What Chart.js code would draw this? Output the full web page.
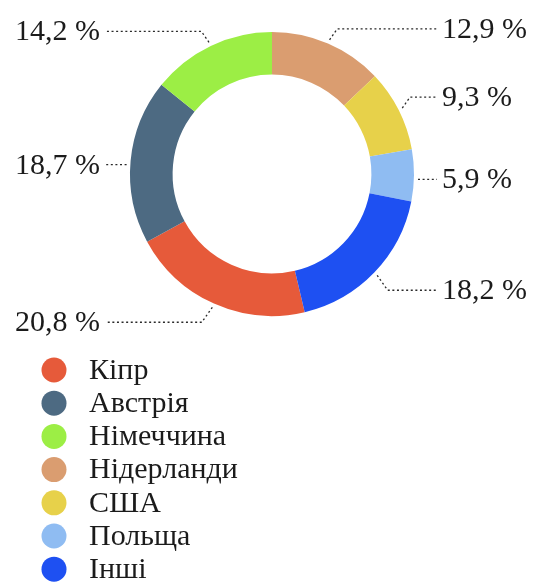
<!DOCTYPE html>
<html>
<head>
<meta charset="utf-8">
<script src="https://cdn.jsdelivr.net/npm/chart.js@4.4.0/dist/chart.umd.min.js"></script>
<style>
  html, body { margin: 0; padding: 0; background: #fff; }
</style>
</head>
<body>
<canvas id="donutChart" width="536" height="583"></canvas>
<script>
// data
var countries = ["Кіпр", "Австрія", "Німеччина", "Нідерланди", "США", "Польща", "Інші"];
var shares = [20.8, 18.7, 14.2, 12.9, 9.3, 5.9, 18.2];
var colors = ["#e65a3a", "#4d6a82", "#9cee45", "#da9d70", "#e7d14a", "#8fbcf2", "#1e50f2"];

// Нідерланди starts at 12 o'clock, so rotate back by the first three slices
var total = shares.reduce(function (a, b) { return a + b; }, 0);
var rotation = -(shares[0] + shares[1] + shares[2]) / total * 360;

var serif = '"Liberation Serif", "Times New Roman", serif';

var callouts = {
  id: 'callouts',
  afterDatasetsDraw: function (chart) {
    var ctx = chart.ctx;
    var meta = chart.getDatasetMeta(0);
    ctx.save();
    ctx.font = '30px ' + serif;
    ctx.fillStyle = '#1b1b1b';
    ctx.strokeStyle = '#2a2a2a';
    ctx.lineWidth = 1.3;
    ctx.textBaseline = 'middle';
    meta.data.forEach(function (arc, i) {
      var p = arc.getProps(['x', 'y', 'startAngle', 'endAngle', 'outerRadius'], true);
      var mid = (p.startAngle + p.endAngle) / 2;
      var r = p.outerRadius + 4;
      var s = Math.sin(mid);
      var ax = p.x + Math.cos(mid) * r;
      var ay = p.y + s * r;
      var sideways = Math.abs(s) <= 0.3;
      // push labels away vertically from the ring, a bit more at the bottom
      var dy = sideways ? 4 : (s > 0 ? 15 : -11);
      var ly = ay + dy;
      var right = Math.cos(mid) > 0;
      var ex = sideways ? ax : (right ? ax + Math.abs(dy) * 0.7 : ax - Math.abs(dy) * 0.7);
      var tx = right ? p.x + p.outerRadius + 28 : p.x - p.outerRadius - 30;
      var lx = right ? tx - 5 : tx + 6;

      ctx.setLineDash([2, 2.6]);
      ctx.beginPath();
      ctx.moveTo(ax, sideways ? ly : ay);
      ctx.lineTo(ex, ly);
      ctx.lineTo(lx, ly);
      ctx.stroke();

      ctx.setLineDash([]);
      ctx.textAlign = right ? 'left' : 'right';
      ctx.fillText(shares[i].toFixed(1).replace('.', ',') + ' %', tx, ly + 1);
    });
    ctx.restore();
  }
};

var listLegend = {
  id: 'listLegend',
  afterDraw: function (chart) {
    var ctx = chart.ctx;
    ctx.save();
    ctx.font = '30px ' + serif;
    ctx.textBaseline = 'middle';
    ctx.textAlign = 'left';
    chart.data.labels.forEach(function (name, i) {
      var y = 370 + i * 33.2;
      ctx.fillStyle = colors[i];
      ctx.beginPath();
      ctx.arc(54, y, 12.5, 0, Math.PI * 2);
      ctx.fill();
      ctx.fillStyle = '#1b1b1b';
      ctx.fillText(name, 89, y + 1);
    });
    ctx.restore();
  }
};

var donutChart = new Chart(document.getElementById('donutChart'), {
  type: 'doughnut',
  data: {
    labels: countries,
    datasets: [{
      data: shares,
      backgroundColor: colors,
      borderWidth: 0,
      hoverOffset: 0
    }]
  },
  options: {
    responsive: false,
    animation: false,
    rotation: rotation,
    cutout: '70%',
    layout: {
      padding: { left: 130, right: 122, top: 32, bottom: 267 }
    },
    plugins: {
      legend: { display: false },
      tooltip: { enabled: false }
    }
  },
  plugins: [callouts, listLegend]
});
</script>
</body>
</html>
